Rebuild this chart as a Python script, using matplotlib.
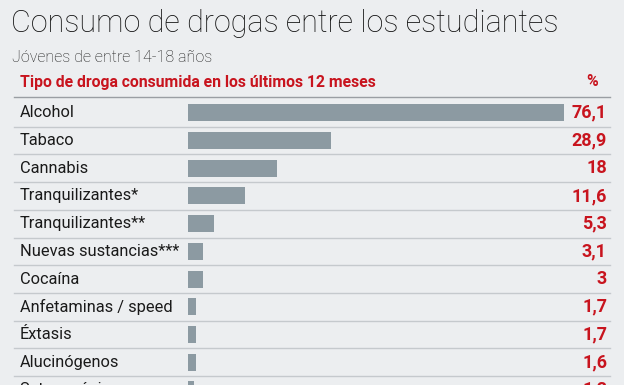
import matplotlib.pyplot as plt
import matplotlib.transforms as mtransforms

# datos
drogas = ['Alcohol', 'Tabaco', 'Cannabis', 'Tranquilizantes*', 'Tranquilizantes**',
          'Nuevas sustancias***', 'Cocaína', 'Anfetaminas / speed', 'Éxtasis',
          'Alucinógenos', 'Setas mágicas']
valores = [76.1, 28.9, 18, 11.6, 5.3, 3.1, 3, 1.7, 1.7, 1.6, 1.2]
etiquetas = ['76,1', '28,9', '18', '11,6', '5,3', '3,1', '3', '1,7', '1,7', '1,6', '1,2']

W, H = 624, 385
bg = '#eceef0'
rojo = '#c8141e'
gris_barra = '#8c9aa2'

fig = plt.figure(figsize=(W / 100, H / 100), dpi=100, facecolor=bg)

# axes de las barras: x de 188 a 612 px, y de 99 a 385 px
row_h = 27.7
x0, x1 = 188, 612
y_top = 99
ax = fig.add_axes([x0 / W, 0, (x1 - x0) / W, (H - y_top) / H])
ax.set_facecolor(bg)
px_per_unit = (564 - 188) / 76.1
ax.set_xlim(0, (x1 - x0) / px_per_unit)
ax.set_ylim(-0.5 + (H - y_top) / row_h, -0.5)
ax.axis('off')

y = list(range(len(drogas)))
ax.barh(y, valores, height=17 / row_h, color=gris_barra, left=0)

trans = mtransforms.blended_transform_factory(fig.transFigure, ax.transData)
for i, (d, e) in enumerate(zip(drogas, etiquetas)):
    ax.text(20 / W, i, d, transform=trans, ha='left', va='center',
            fontsize=11.8, family='Roboto', color='#1a1a1a')
    ax.text(607 / W, i, e, transform=trans, ha='right', va='center',
            fontsize=13, family='Roboto', fontweight='bold', color=rojo)
    ax.plot([14 / W, 610 / W], [i + 0.5, i + 0.5], transform=trans,
            color='#c5c9cd', lw=1, clip_on=False)

# titulos
fig.text(11 / W, 1 - 24 / H, 'Consumo de drogas entre los estudiantes', ha='left', va='center',
         fontsize=22, family='Roboto', fontweight='light', color='#111111')
fig.text(12 / W, 1 - 57 / H, 'Jóvenes de entre 14-18 años', ha='left', va='center',
         fontsize=11.5, family='Roboto', fontweight='light', color='#1a1a1a')
fig.text(20 / W, 1 - 82 / H, 'Tipo de droga consumida en los últimos 12 meses', ha='left', va='center',
         fontsize=11.3, family='Roboto', fontweight='bold', color=rojo)
fig.text(598 / W, 1 - 82 / H, '%', ha='right', va='center',
         fontsize=11.3, family='Roboto', fontweight='bold', color=rojo)
fig.add_artist(plt.Line2D([14 / W, 610 / W], [1 - 97 / H, 1 - 97 / H], color='#9a9ea3', lw=1))

fig.savefig('out.png', dpi=100, facecolor=bg)
